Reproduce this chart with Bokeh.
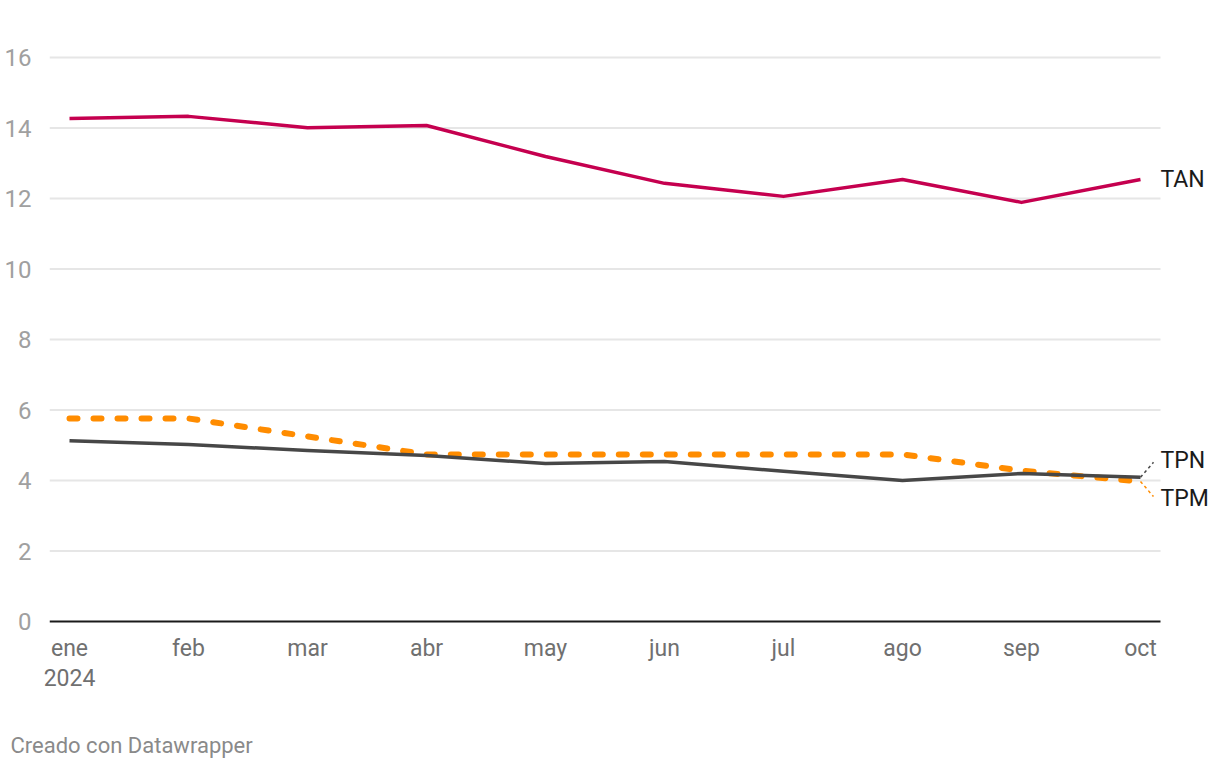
from bokeh.plotting import figure
from bokeh.models import FixedTicker, Label, Range1d, Title
from bokeh.embed import file_html
from bokeh.resources import INLINE

months = ["ene", "feb", "mar", "abr", "may", "jun", "jul", "ago", "sep", "oct"]
year_label = "2024"
tan = [14.27, 14.33, 14.01, 14.07, 13.19, 12.43, 12.06, 12.54, 11.89, 12.54]
tpm = [5.76, 5.76, 5.25, 4.74, 4.74, 4.74, 4.74, 4.74, 4.28, 3.97]
tpn = [5.13, 5.02, 4.85, 4.71, 4.48, 4.54, 4.26, 4.00, 4.20, 4.09]
y_ticks = [0, 2, 4, 6, 8, 10, 12, 14, 16]

C_TAN = "#c5004f"
C_TPN = "#474747"
C_TPM = "#ff8c00"
FONT = "Roboto"

xs = list(range(len(months)))
PX_Y = 35.25
PX_X = 119.0
W, H = 1212, 760
LEFT = 49
X0 = 69          # pixel position of first month
Y_ZERO = 621     # pixel position of value 0
TOP = 28

x_start = -(X0 - LEFT) / PX_X
x_end = (W - X0) / PX_X
grid_end = 9 + 20 / PX_X

p = figure(width=W, height=H, output_backend="svg", toolbar_location=None,
           x_range=Range1d(x_start, x_end),
           y_range=Range1d(-2 / PX_Y, (Y_ZERO - TOP) / PX_Y),
           min_border_left=LEFT, min_border_right=0, min_border_top=TOP,
           min_border_bottom=H - Y_ZERO - 2)
p.outline_line_color = None
p.background_fill_color = "white"
p.border_fill_color = "white"

p.xgrid.grid_line_color = None
p.ygrid.grid_line_color = None

# horizontal grid lines limited to the plotting width
p.segment(x0=[x_start] * len(y_ticks[1:]), y0=y_ticks[1:],
          x1=[grid_end] * len(y_ticks[1:]), y1=y_ticks[1:],
          line_color="#e6e6e6", line_width=2)

p.yaxis.ticker = FixedTicker(ticks=y_ticks)
p.yaxis.axis_line_color = None
p.yaxis.major_tick_line_color = None
p.yaxis.minor_tick_line_color = None
p.yaxis.major_label_text_font = FONT
p.yaxis.major_label_text_font_size = "24px"
p.yaxis.major_label_text_color = "#a0a0a0"
p.yaxis.major_label_standoff = 12

p.xaxis.ticker = FixedTicker(ticks=xs)
labels = {i: m for i, m in enumerate(months)}
labels[0] = months[0] + "\n" + year_label
p.xaxis.major_label_overrides = labels
p.xaxis.axis_line_color = None
p.xaxis.major_tick_line_color = None
p.xaxis.minor_tick_line_color = None
p.xaxis.major_label_text_font = FONT
p.xaxis.major_label_text_font_size = "23px"
p.xaxis.major_label_text_color = "#707070"
p.xaxis.major_label_standoff = 5
p.xaxis.major_label_text_line_height = 1.12
# blank axis label used only as spacing above the credit line
p.xaxis.axis_label = " "
p.xaxis.axis_label_text_font_size = "20px"
p.xaxis.axis_label_standoff = 11

p.line(xs, tpm, line_color=C_TPM, line_width=6, line_dash="8 16", line_cap="round")
p.line(xs, tpn, line_color=C_TPN, line_width=3.5, line_join="round")
p.line(xs, tan, line_color=C_TAN, line_width=3.5, line_join="round")

# baseline at zero
p.segment(x0=[x_start], y0=[0], x1=[grid_end], y1=[0], line_color="#1a1a1a", line_width=2)

# connectors for end labels
last = xs[-1]
p.segment(x0=[last], y0=[tpn[-1]], x1=[last + 13 / PX_X], y1=[tpn[-1] + 15 / PX_Y],
          line_color=C_TPN, line_width=1.5, line_dash="3 3")
p.segment(x0=[last], y0=[tpm[-1]], x1=[last + 13 / PX_X], y1=[tpm[-1] - 15 / PX_Y],
          line_color=C_TPM, line_width=1.5, line_dash="3 3")

lab_x = last + 20 / PX_X
for txt, yv in [("TAN", tan[-1]), ("TPN", tpn[-1] + 17 / PX_Y), ("TPM", tpm[-1] - 17 / PX_Y)]:
    p.add_layout(Label(x=lab_x, y=yv, text=txt, text_font=FONT, text_font_size="23px",
                       text_color="#1a1a1a", text_baseline="middle", text_align="left"))

credit = Title(text="Creado con Datawrapper", align="left", offset=-39,
               text_font=FONT, text_font_size="22px", text_color="#8a8a8a",
               text_font_style="normal", standoff=0)
p.add_layout(credit, "below")

open("out.html", "w").write(file_html(p, INLINE))
